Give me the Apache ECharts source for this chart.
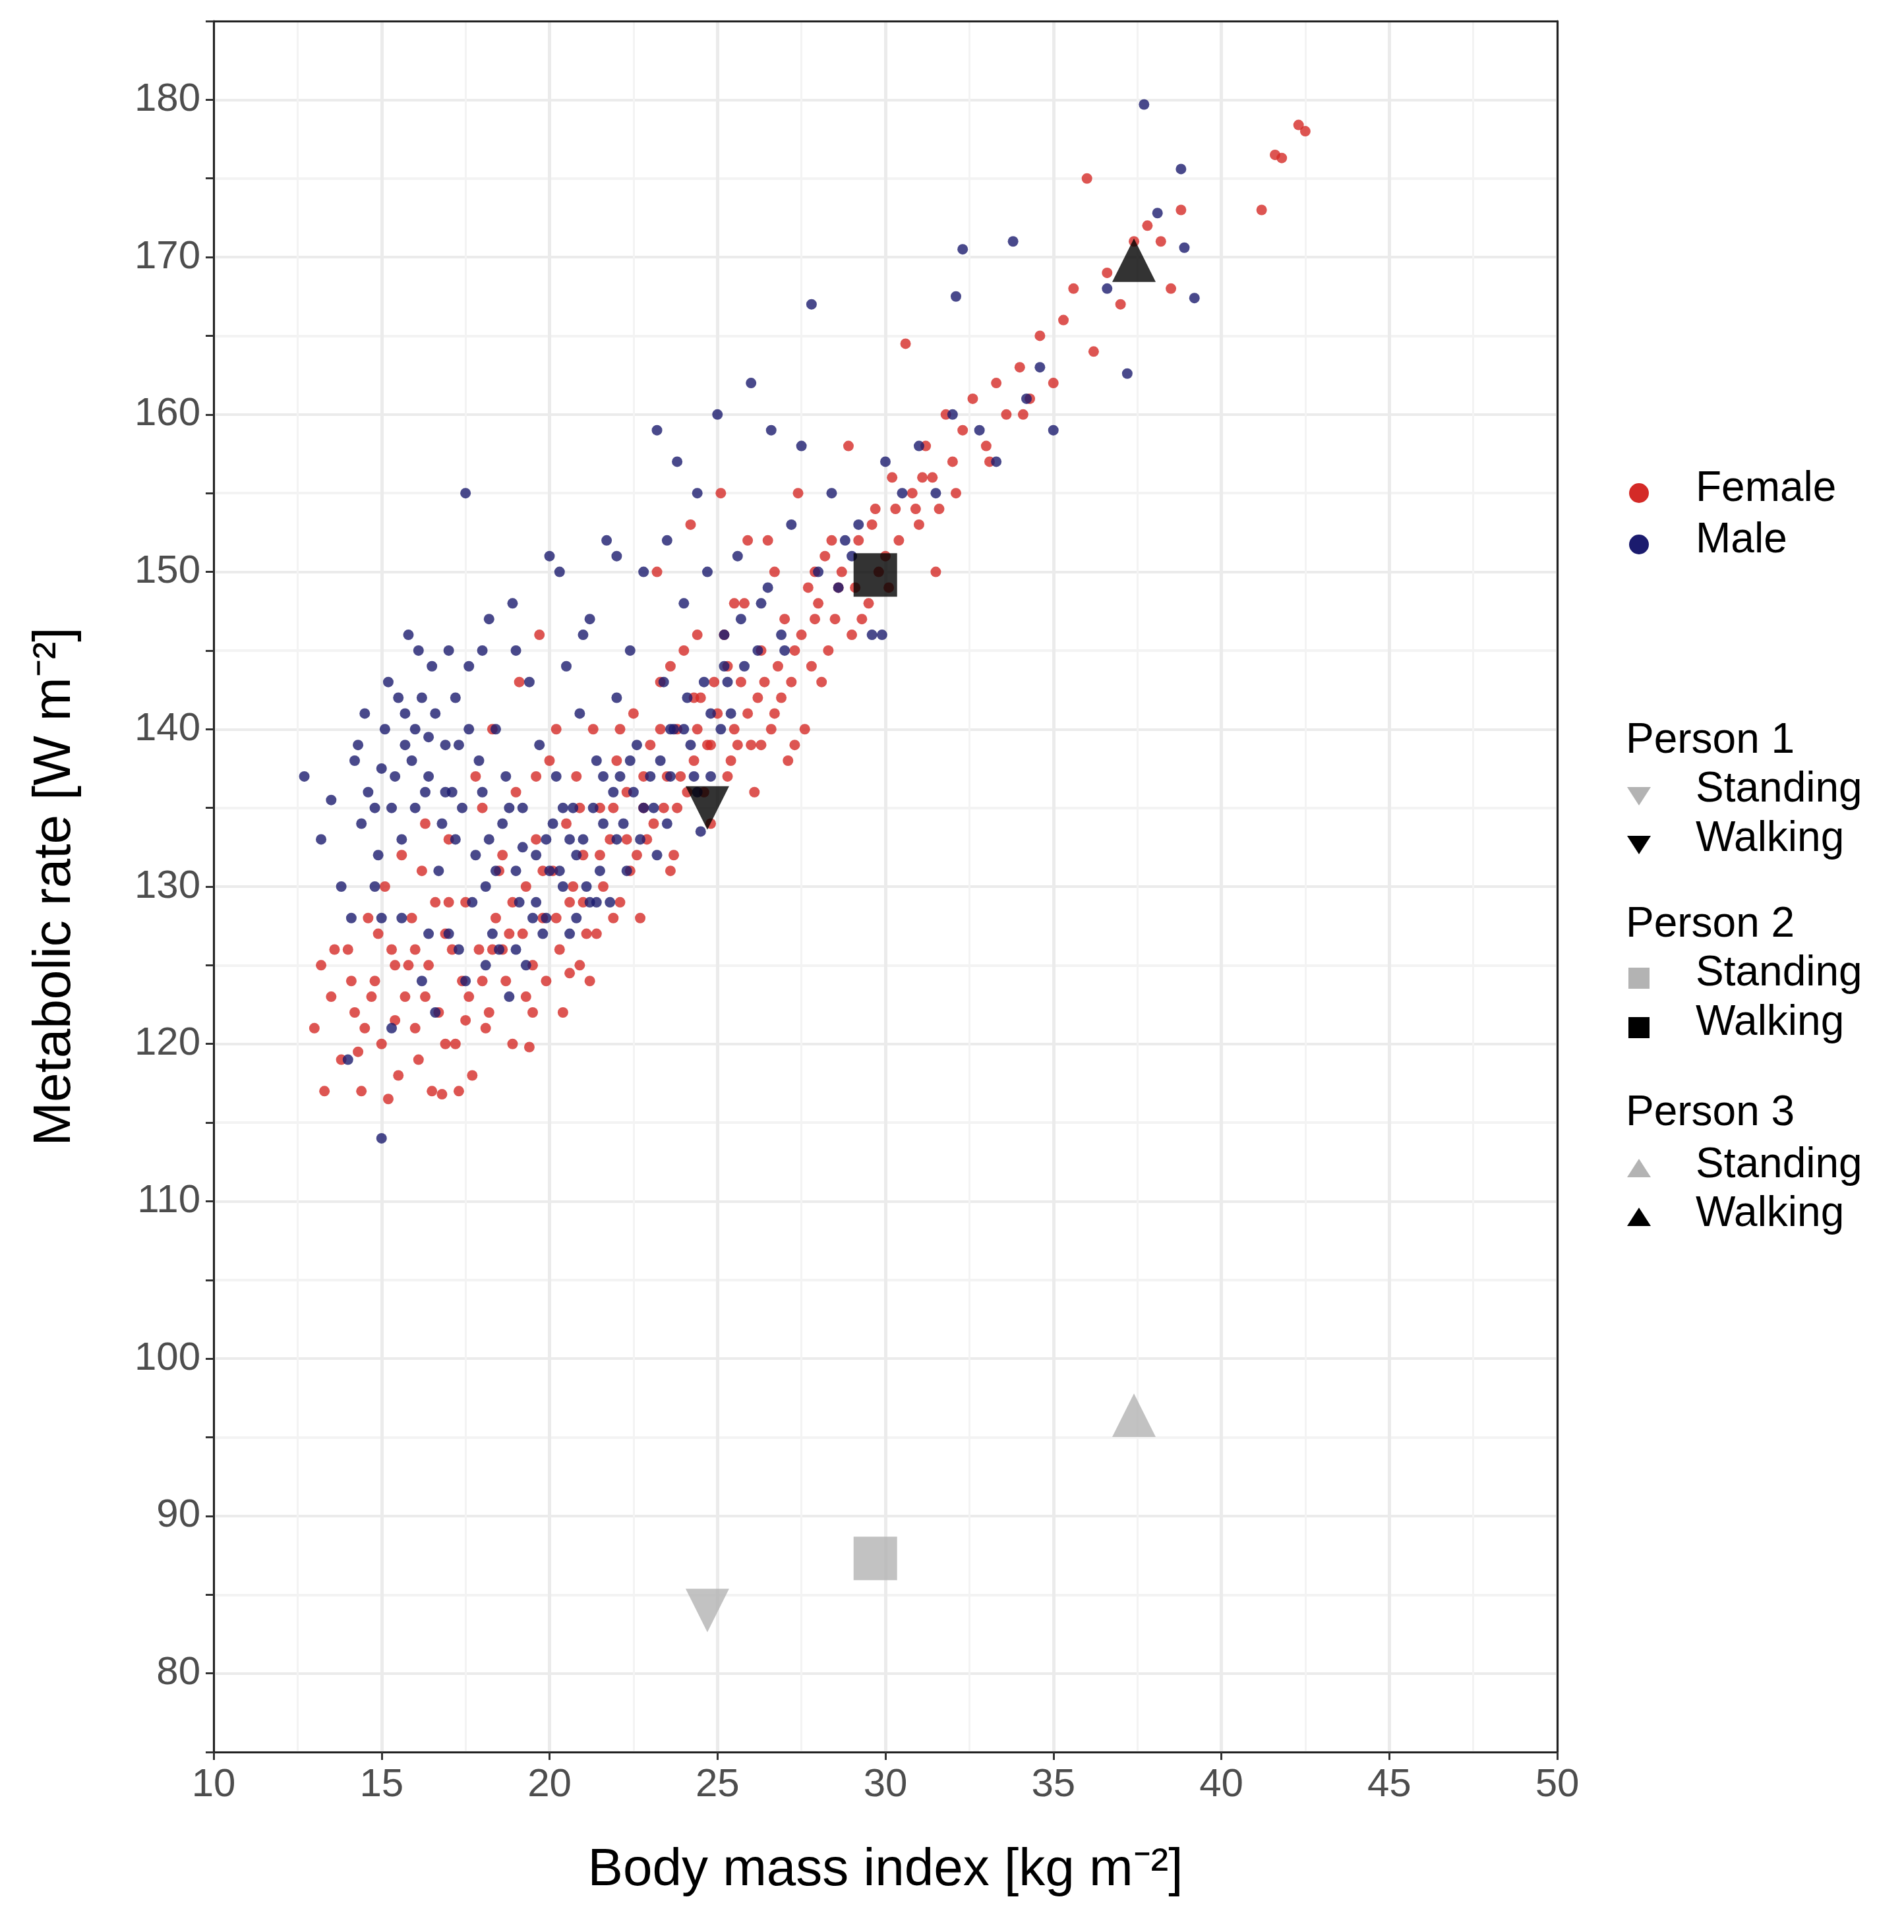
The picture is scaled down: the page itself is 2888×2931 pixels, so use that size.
<!DOCTYPE html>
<html><head><meta charset="utf-8">
<script src="https://cdn.jsdelivr.net/npm/echarts@6/dist/echarts.min.js"></script>
<style>html,body{margin:0;padding:0;background:#fff}#c{width:2888px;height:2931px}</style>
</head><body><div id="c"></div>
<script>
// BMI [kg m-2], metabolic rate [W m-2]
const female = [
 [13.0,121],[13.2,125],[13.5,123],[13.8,119],[14.0,126],[14.2,122],[14.4,117],[14.6,128],[14.8,124],[15.0,120],
 [15.1,130],[15.3,126],[15.5,118],[15.7,123],[15.9,128],[16.0,121],[16.2,131],[16.4,125],[16.5,117],[16.7,122],
 [16.9,127],[17.0,133],[17.2,120],[17.4,124],[17.5,129],[17.7,118],[17.9,126],[18.0,135],[18.2,122],[18.4,128],
 [18.5,131],[18.7,124],[18.9,120],[19.0,136],[19.2,127],[19.3,130],[19.5,125],[19.6,133],[19.8,128],[20.0,138],
 [20.1,131],[20.3,126],[20.5,134],[20.6,129],[20.8,137],[21.0,132],[21.1,127],[21.3,140],[21.5,135],[21.6,130],
 [21.8,133],[22.0,138],[22.1,129],[22.3,136],[22.5,141],[22.6,132],[22.8,135],[23.0,139],[23.1,134],[23.3,143],
 [23.5,137],[23.6,131],[23.8,140],[24.0,145],[24.1,136],[24.3,138],[24.5,142],[24.7,139],[24.8,134],[25.0,141],
 [25.2,146],[25.3,137],[25.5,140],[25.7,143],[25.8,148],[26.0,139],[26.2,142],[26.3,145],[26.5,152],[26.7,141],
 [26.8,144],[27.0,147],[27.2,143],[27.3,139],[27.5,146],[27.7,149],[27.8,144],[28.0,148],[28.2,151],[28.3,145],
 [28.5,147],[28.7,150],[28.9,158],[29.0,146],[29.2,152],[29.5,148],[29.7,154],[30.0,151],[30.2,156],[30.4,152],
 [30.6,164.5],[30.8,155],[31.0,153],[31.2,158],[31.4,156],[31.6,154],[31.8,160],[32.0,157],[32.3,159],[32.6,161],
 [33.0,158],[33.3,162],[33.6,160],[34.0,163],[34.3,161],[34.6,165],[35.0,162],[35.3,166],[35.6,168],[36.0,175],
 [36.2,164],[36.6,169],[37.0,167],[37.4,171],[37.8,172],[38.2,171],[38.5,168],[38.8,173],[41.2,173],[41.6,176.5],
 [41.8,176.3],[42.3,178.4],[42.5,178],
 [13.3,117],[14.5,121],[15.2,116.5],[16.1,119],[16.8,116.8],[17.3,117],[18.1,121],[18.6,126],[19.4,119.8],[19.9,124],
 [20.4,122],[20.9,125],[21.4,127],[21.9,128],[22.4,131],[22.9,133],[23.4,135],[23.9,137],[24.4,140],[24.9,143],
 [25.4,138],[26.1,136],[26.6,140],[27.1,138],[27.6,140],[15.6,132],[16.3,134],[17.8,137],[18.3,140],[19.1,143],
 [19.7,146],[20.2,140],[23.2,150],[24.2,153],[25.1,155],[25.9,152],[27.4,155],[28.1,143],[29.3,147],[30.1,149],
 [31.5,150],[14.1,124],[14.9,127],[15.4,125],[16.6,129],[17.1,126],[17.6,123],[18.8,127],[19.5,122],[20.7,130],
 [21.2,124],[22.7,128],[23.7,132],[24.6,136],[25.6,139],[26.4,143],[27.9,147],[28.6,149],[29.8,150],[30.9,154],
 [13.6,126],[14.3,119.5],[14.7,123],[15.4,121.5],[15.8,125],[16.3,123],[16.9,120],[17.5,121.5],[18.0,124],[18.3,126],
 [18.9,129],[19.3,123],[19.8,131],[20.2,128],[20.6,124.5],[21.0,129],[21.5,132],[21.9,135],[22.3,133],[22.8,137],
 [23.3,140],[23.8,135],[24.3,142],[24.8,139],[25.3,144],[25.9,141],[26.3,139],[26.9,142],[27.3,145],[27.9,150],
 [28.4,152],[29.1,149],[29.6,153],[30.3,154],[31.1,156],[32.1,155],[33.1,157],[34.1,160],[16.0,126],[17.0,129],
 [18.6,132],[19.6,137],[20.9,135],[22.1,140],[23.6,144],[24.4,146],[25.5,148],[26.7,150]
];
const male = [
 [12.7,137],[13.2,133],[13.8,130],[14.2,138],[14.5,141],[14.8,135],[15.0,114],[15.0,128],[15.2,143],[15.4,137],
 [15.6,133],[15.8,146],[16.0,140],[16.2,124],[16.3,136],[16.5,144],[16.7,131],[16.9,139],[17.0,127],[17.2,142],
 [17.4,135],[17.5,155],[17.7,129],[17.9,138],[18.0,145],[18.2,133],[18.4,140],[18.5,126],[18.7,137],[18.9,148],
 [19.0,131],[19.2,135],[19.4,143],[19.5,128],[19.7,139],[19.9,133],[20.0,151],[20.2,137],[20.4,130],[20.5,144],
 [20.7,135],[20.9,141],[21.0,133],[21.2,147],[21.4,138],[21.5,131],[21.7,152],[21.9,136],[22.0,142],[22.2,134],
 [22.4,145],[22.6,139],[22.8,150],[23.0,137],[23.2,159],[23.4,143],[23.6,140],[23.8,157],[24.0,148],[24.2,139],
 [24.4,155],[24.6,143],[24.8,137],[25.0,160],[25.2,146],[25.4,141],[25.6,151],[25.8,144],[26.0,162],[26.3,148],
 [26.6,159],[26.9,146],[27.2,153],[27.5,158],[27.8,167],[28.0,150],[28.4,155],[28.8,152],[29.2,153],[29.6,146],
 [30.0,157],[30.5,155],[31.0,158],[31.5,155],[32.0,160],[32.1,167.5],[32.3,170.5],[32.8,159],[33.3,157],[33.8,171],
 [34.2,161],[34.6,163],[35.0,159],[36.6,168],[37.2,162.6],[37.7,179.7],[38.1,172.8],[38.8,175.6],[38.9,170.6],[39.2,167.4],
 [14.3,139],[14.6,136],[15.1,140],[15.5,142],[15.9,138],[16.1,145],[16.4,137],[16.6,141],[16.8,134],[17.1,136],
 [17.3,139],[17.6,144],[17.8,132],[18.1,130],[18.3,127],[18.6,134],[18.8,123],[19.1,129],[19.3,125],[19.6,132],
 [19.8,127],[20.1,134],[20.3,131],[20.6,133],[20.8,128],[21.1,130],[21.3,135],[21.6,134],[21.8,129],[22.1,137],
 [22.3,131],[22.5,136],[22.7,133],[23.1,135],[23.3,138],[23.5,134],[23.7,140],[24.1,142],[24.3,137],[24.5,133.5],
 [25.1,140],[25.3,143],[14.0,119],[15.3,121],[16.6,122],[17.5,124],[13.5,135.5],[14.9,132],[15.7,139],[16.2,142],
 [17.0,145],[18.2,147],[19.0,145],[20.3,150],[21.0,146],[22.0,151],[23.5,152],[24.7,150],[26.5,149],[27.0,145],
 [14.4,134],[15.0,137.5],[15.3,135],[15.7,141],[16.0,135],[16.4,139.5],[16.9,136],[17.2,133],[17.6,140],[18.0,136],
 [18.4,131],[18.8,135],[19.2,132.5],[19.6,129],[20.0,131],[20.4,135],[20.8,132],[21.2,129],[21.6,137],[22.0,133],
 [22.4,138],[22.8,135],[23.2,132],[23.6,137],[24.0,140],[24.4,136],[24.8,141],[25.2,144],[25.7,147],[26.2,145],
 [14.1,128],[14.8,130],[15.6,128],[16.4,127],[17.3,126],[18.1,125],[19.0,126],[19.9,128],[20.6,127],[21.4,129],
 [28.6,149],[29.0,151],[29.9,146]
];
// persons: [bmi, standing, walking]
const person1 = [24.7, 84, 135];
const person2 = [29.7, 87.3, 149.8];
const person3 = [37.4, 96.4, 169.8];

const RED = '#d42a27', NAVY = '#1b1b6e', GREY = '#b3b3b3';
const font = 'Arial, "Liberation Sans", sans-serif';
const down = 'path://M0,0 L10,0 L5,9 Z';
const up = 'path://M0,9 L10,9 L5,0 Z';

function pt(p, i, sym, col, name) {
  return {type:'scatter', name, symbol: sym, symbolSize: 66, data:[[p[0], p[i]]],
    itemStyle:{color: col}, z: 5};
}

const chart = echarts.init(document.getElementById('c'));
const lx = 2486, tx = 2572, fs = 64;
function lgText(x, y, t) { return {type:'text', left:x, top:y - 38, style:{text:t, font: fs + 'px ' + font, fill:'#000'}}; }
const graphic = [
  {type:'circle', shape:{cx:lx, cy:748, r:15}, style:{fill:RED}},
  lgText(tx, 748, 'Female'),
  {type:'circle', shape:{cx:lx, cy:826, r:15}, style:{fill:NAVY}},
  lgText(tx, 826, 'Male'),
  lgText(2466, 1130, 'Person 1'),
  {type:'polygon', shape:{points:[[lx-18,1194],[lx+18,1194],[lx,1222]]}, style:{fill:GREY}},
  lgText(tx, 1204, 'Standing'),
  {type:'polygon', shape:{points:[[lx-18,1268],[lx+18,1268],[lx,1296]]}, style:{fill:'#000'}},
  lgText(tx, 1279, 'Walking'),
  lgText(2466, 1409, 'Person 2'),
  {type:'rect', shape:{x:lx-16, y:1468, width:32, height:32}, style:{fill:GREY}},
  lgText(tx, 1483, 'Standing'),
  {type:'rect', shape:{x:lx-16, y:1543, width:32, height:32}, style:{fill:'#000'}},
  lgText(tx, 1558, 'Walking'),
  lgText(2466, 1695, 'Person 3'),
  {type:'polygon', shape:{points:[[lx-18,1786],[lx+18,1786],[lx,1758]]}, style:{fill:GREY}},
  lgText(tx, 1774, 'Standing'),
  {type:'polygon', shape:{points:[[lx-18,1860],[lx+18,1860],[lx,1832]]}, style:{fill:'#000'}},
  lgText(tx, 1848, 'Walking')
];

const frame = {axisLine:{show:true, onZero:false, lineStyle:{color:'#222', width:3}},
  axisTick:{show:false}, axisLabel:{show:false}, splitLine:{show:false}};

chart.setOption({
  backgroundColor:'#fff',
  animation:false,
  textStyle:{fontFamily: font},
  grid:{left:324, right:526, top:32, bottom:273},
  xAxis:[{type:'value', min:10, max:50, interval:5,
    name:'Body mass index [kg m\u207B\u00B2]', nameLocation:'middle', nameGap:140,
    nameTextStyle:{fontSize:80, color:'#000'},
    axisLine:{show:true, onZero:false, lineStyle:{color:'#222', width:3}},
    axisTick:{show:true, length:12, lineStyle:{color:'#333', width:3}},
    axisLabel:{fontSize:60, color:'#4d4d4d', margin:20},
    splitLine:{show:true, lineStyle:{color:'#ebebeb', width:5}},
    minorTick:{show:false, splitNumber:2},
    minorSplitLine:{show:true, lineStyle:{color:'#f3f3f3', width:3}}},
    Object.assign({type:'value', min:10, max:50, position:'top'}, frame)],
  yAxis:[{type:'value', min:75, max:185, interval:5,
    axisLabel:{fontSize:60, color:'#4d4d4d', margin:20, formatter: v => (v % 10 === 0 ? String(v) : '')},
    name:'Metabolic rate [W m\u207B\u00B2]', nameLocation:'middle', nameGap:200,
    nameTextStyle:{fontSize:80, color:'#000'},
    axisLine:{show:true, onZero:false, lineStyle:{color:'#222', width:3}},
    axisTick:{show:true, length:12, lineStyle:{color:'#333', width:3}},
    splitLine:{show:true, lineStyle:{color:['#f3f3f3', '#ebebeb'], width:4}}},
    Object.assign({type:'value', min:75, max:185, position:'right'}, frame)],
  series:[
    {type:'scatter', name:'Female', data:female, symbolSize:16, itemStyle:{color:RED}, z:2},
    {type:'scatter', name:'Male', data:male, symbolSize:16, itemStyle:{color:NAVY}, z:3},
    pt(person1, 1, down, GREY, 'P1 Standing'),
    pt(person1, 2, down, '#000', 'P1 Walking'),
    pt(person2, 1, 'rect', GREY, 'P2 Standing'),
    pt(person2, 2, 'rect', '#000', 'P2 Walking'),
    pt(person3, 1, up, GREY, 'P3 Standing'),
    pt(person3, 2, up, '#000', 'P3 Walking')
  ],
  graphic
});
</script></body></html>
